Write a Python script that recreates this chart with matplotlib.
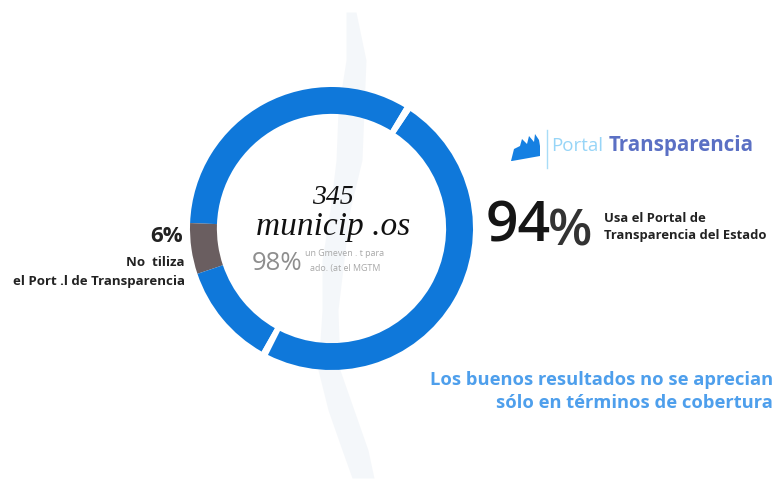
import matplotlib
matplotlib.use('Agg')
import matplotlib.pyplot as plt

# ring segments, % of the circle going counter-clockwise (gaps are the white cuts)
segments = [33.0, 5.8, 11.6, 0.8, 48.0, 0.8]
seg_colors = ['#0F78DA', '#6A5E60', '#0F78DA', '#FFFFFF', '#0F78DA', '#FFFFFF']

# faint map strip behind the ring (y, left edge, right edge in px)
map_y = [12, 60, 110, 160, 210, 260, 310, 370, 410, 450, 478]
map_left = [346, 346, 338, 336, 330, 322, 322, 318, 328, 342, 352]
map_right = [356, 366, 364, 362, 350, 344, 338, 340, 354, 368, 374]

# small factory logo (px)
logo_x = [511, 514, 520, 522, 527, 529, 534, 535, 539, 540, 540, 512]
logo_y = [161, 149, 146, 139, 144, 136, 142, 134, 140, 146, 156, 161]

BLUE_TXT = '#4E9FEC'
DARK = '#222222'
SANS = 'Open Sans'

fig = plt.figure(figsize=(7.84, 4.83), dpi=100, facecolor='white')
bg = fig.add_axes([0, 0, 1, 1])
bg.set_xlim(0, 784)
bg.set_ylim(483, 0)
bg.axis('off')

bg.fill_betweenx(map_y, map_left, map_right, color='#EEF2F7', lw=0, alpha=0.6)
bg.fill(logo_x, logo_y, color='#1580E2', lw=0)
bg.plot([547, 547], [130, 168], color='#A8DCF7', lw=1)

# ring
cx, cy, R = 331.5, 228.5, 141.5
ring = fig.add_axes([(cx - R) / 784, 1 - (cy + R) / 483, 2 * R / 784, 2 * R / 483])
ring.pie(segments, colors=seg_colors, startangle=59, counterclock=True, radius=1,
         wedgeprops=dict(width=0.19, linewidth=0))
ring.set_xlim(-1, 1)
ring.set_ylim(-1, 1)
ring.set_aspect('equal')

# centre text
hand = dict(family='Liberation Serif', style='italic', color='#111111', ha='center', va='center')
bg.text(333, 197, '345', fontsize=20, **hand)
bg.text(333, 227, 'municip .os', fontsize=24, **hand)
bg.text(277, 263, '98%', fontsize=18.5, color='#8E8E8E', family=SANS, ha='center', va='center')
bg.text(345, 254, 'un Gmeven . t para', fontsize=6.4, color='#A8A8A8', family=SANS, ha='center', va='center')
bg.text(345, 269, 'ado. (at el MGTM', fontsize=6.4, color='#A8A8A8', family=SANS, ha='center', va='center')

# left label
bg.text(183, 237, '6%', fontsize=16, color=DARK, family=SANS, weight='bold', ha='right', va='center')
bg.text(185, 263, 'No  tiliza', fontsize=9.5, color=DARK, family=SANS, weight='bold', ha='right', va='center')
bg.text(185, 282, 'el Port .l de Transparencia', fontsize=9.5, color=DARK, family=SANS, weight='bold', ha='right', va='center')

# right label
bg.text(486, 228, '94', fontsize=41, color='#151515', family=SANS, weight='semibold', ha='left', va='center')
bg.text(570, 232, '%', fontsize=37, color='#333333', family=SANS, weight='semibold', ha='center', va='center')
bg.text(604, 218, 'Usa el Portal de', fontsize=9.4, color=DARK, family=SANS, weight='bold', ha='left', va='center')
bg.text(604, 236, 'Transparencia del Estado', fontsize=9.4, color=DARK, family=SANS, weight='bold', ha='left', va='center')

# logo text
bg.text(551, 146, 'Portal', fontsize=13.5, color='#97D5F7', family=SANS, ha='left', va='center')
bg.text(609, 146, 'Transparencia', fontsize=14.8, color='#5B70C4', family=SANS, weight='bold', ha='left', va='center')

# bottom note
bg.text(773, 380, 'Los buenos resultados no se aprecian', fontsize=13.2, color=BLUE_TXT, family=SANS, weight='bold', ha='right', va='center')
bg.text(773, 403, 'sólo en términos de cobertura', fontsize=13.2, color=BLUE_TXT, family=SANS, weight='bold', ha='right', va='center')

fig.savefig('out.png', dpi=100)
